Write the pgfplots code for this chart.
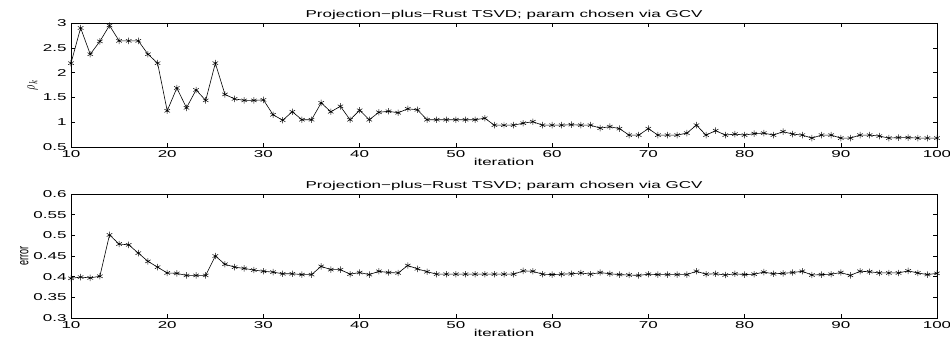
\documentclass[border=0pt]{standalone}
\usepackage{fontspec}
\setmainfont[FakeStretch=1.7]{Liberation Sans}
\newfontfamily\plainfont{Liberation Sans}
\usepackage{pgfplots}
\pgfplotsset{compat=1.18}
\begin{document}
\begin{tikzpicture}
\path[use as bounding box] (-71bp,-26bp) rectangle (879bp,318bp);
\pgfplotsset{
  every axis/.append style={
    scale only axis, width=866bp, height=124bp,
    xmin=10, xmax=100, xtick={10,20,...,100},
    tick align=inside, major tick length=4bp,
    axis line style={line width=0.8pt}, every tick/.style={black, line width=0.5pt},
    font=\fontsize{10bp}{12bp}\selectfont,
    /pgf/number format/assume math mode=true,
    xlabel={iteration},
    xlabel style={yshift=6bp},
    title={Projection−plus−Rust TSVD; param chosen via GCV},
    title style={yshift=-6bp},
    ylabel style={yshift=-2bp},
    xticklabel style={yshift=0.5bp},
    yticklabel style={xshift=-1bp},
  },
  myline/.style={black, line width=0.6pt, mark=asterisk, mark size=3.2pt, mark options={line width=0.5pt}},
}
\begin{axis}[at={(0,171bp)}, anchor=south west,
  ymin=0.5, ymax=3, ytick={0.5,1,...,3},
  yticklabel style={/pgf/number format/fixed},
  ylabel={\scalebox{1}[1.7]{\plainfont\fontsize{10bp}{11bp}\selectfont$\rho_k$}}]
\addplot[myline] coordinates {
(10,2.19)(11,2.90)(12,2.37)(13,2.63)(14,2.95)(15,2.64)(16,2.64)(17,2.64)(18,2.37)(19,2.19)
(20,1.23)(21,1.69)(22,1.29)(23,1.65)(24,1.44)(25,2.19)(26,1.56)(27,1.47)(28,1.44)(29,1.44)
(30,1.45)(31,1.15)(32,1.04)(33,1.21)(34,1.05)(35,1.05)(36,1.39)(37,1.21)(38,1.32)(39,1.05)
(40,1.24)(41,1.05)(42,1.20)(43,1.22)(44,1.19)(45,1.27)(46,1.25)(47,1.05)(48,1.05)(49,1.05)
(50,1.05)(51,1.05)(52,1.05)(53,1.08)(54,0.94)(55,0.94)(56,0.94)(57,0.98)(58,1.01)(59,0.94)
(60,0.94)(61,0.94)(62,0.95)(63,0.94)(64,0.94)(65,0.88)(66,0.91)(67,0.87)(68,0.74)(69,0.74)
(70,0.87)(71,0.74)(72,0.74)(73,0.74)(74,0.78)(75,0.94)(76,0.74)(77,0.83)(78,0.74)(79,0.76)
(80,0.74)(81,0.77)(82,0.78)(83,0.74)(84,0.81)(85,0.76)(86,0.74)(87,0.68)(88,0.74)(89,0.74)
(90,0.68)(91,0.68)(92,0.74)(93,0.74)(94,0.72)(95,0.68)(96,0.69)(97,0.69)(98,0.68)(99,0.68)
(100,0.68)};
\end{axis}
\begin{axis}[at={(0,0)}, anchor=south west,
  ymin=0.3, ymax=0.6, ytick={0.3,0.35,...,0.6},
  yticklabel style={/pgf/number format/fixed, /pgf/number format/precision=2},
  ylabel={\scalebox{1}[1.7]{\plainfont\fontsize{9bp}{10bp}\selectfont error}}]
\addplot[myline] coordinates {
(10,0.396)(11,0.399)(12,0.397)(13,0.401)(14,0.501)(15,0.479)(16,0.477)(17,0.457)(18,0.437)(19,0.423)
(20,0.409)(21,0.408)(22,0.403)(23,0.403)(24,0.403)(25,0.450)(26,0.430)(27,0.423)(28,0.420)(29,0.416)
(30,0.413)(31,0.411)(32,0.407)(33,0.407)(34,0.405)(35,0.405)(36,0.425)(37,0.417)(38,0.417)(39,0.406)
(40,0.410)(41,0.405)(42,0.413)(43,0.410)(44,0.409)(45,0.427)(46,0.419)(47,0.412)(48,0.406)(49,0.406)
(50,0.406)(51,0.406)(52,0.406)(53,0.406)(54,0.406)(55,0.406)(56,0.406)(57,0.414)(58,0.413)(59,0.406)
(60,0.405)(61,0.406)(62,0.407)(63,0.409)(64,0.406)(65,0.410)(66,0.407)(67,0.405)(68,0.404)(69,0.403)
(70,0.406)(71,0.405)(72,0.405)(73,0.405)(74,0.405)(75,0.413)(76,0.406)(77,0.407)(78,0.404)(79,0.407)
(80,0.405)(81,0.406)(82,0.411)(83,0.407)(84,0.408)(85,0.410)(86,0.413)(87,0.404)(88,0.405)(89,0.406)
(90,0.410)(91,0.403)(92,0.413)(93,0.412)(94,0.409)(95,0.409)(96,0.409)(97,0.414)(98,0.409)(99,0.405)
(100,0.408)};
\end{axis}
\end{tikzpicture}
\end{document}
